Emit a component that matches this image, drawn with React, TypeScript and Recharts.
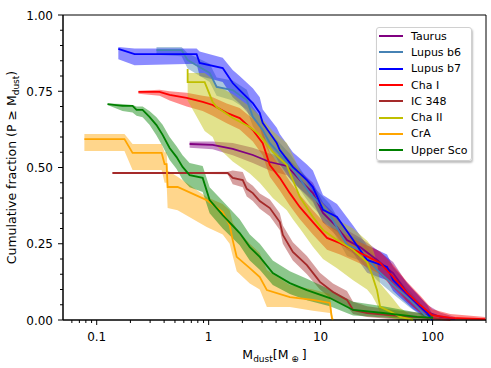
import { ComposedChart, Line, Area, XAxis, YAxis, ReferenceArea } from "recharts";

// each row: [M_dust (Earth masses), cumulative fraction, band low, band high]
type Row = [number, number, number, number];

const taurus: Row[] = [
  [0.676, 0.577, 0.565, 0.585], [1.086, 0.574, 0.56, 0.585], [1.64, 0.561, 0.54, 0.58],
  [2.48, 0.541, 0.515, 0.565], [3.52, 0.518, 0.49, 0.545], [4.99, 0.505, 0.475, 0.535],
  [6.94, 0.449, 0.42, 0.48], [8.53, 0.416, 0.385, 0.45], [10.5, 0.351, 0.32, 0.385],
  [14.0, 0.305, 0.275, 0.34], [17.2, 0.262, 0.23, 0.295], [22.5, 0.239, 0.205, 0.27],
  [31.9, 0.197, 0.165, 0.23], [44.4, 0.154, 0.12, 0.19], [59.3, 0.089, 0.06, 0.12],
  [72.8, 0.056, 0.03, 0.085], [89.5, 0.026, 0.01, 0.05], [117, 0.01, 0, 0.025],
  [159, 0.003, 0, 0.01],
];

const lupusB6: Row[] = [
  [0.342, 0.885, 0.87, 0.895], [0.573, 0.885, 0.865, 0.895], [0.649, 0.852, 0.825, 0.875],
  [1.02, 0.81, 0.78, 0.84], [1.179, 0.764, 0.735, 0.795], [1.64, 0.754, 0.72, 0.785],
  [2.19, 0.721, 0.69, 0.755], [2.48, 0.666, 0.635, 0.7], [3.04, 0.623, 0.59, 0.655],
  [3.52, 0.58, 0.545, 0.615], [5.31, 0.508, 0.475, 0.545], [8.02, 0.416, 0.38, 0.45],
  [12.1, 0.344, 0.31, 0.38], [17.2, 0.246, 0.21, 0.28], [22.5, 0.23, 0.195, 0.265],
  [31.9, 0.164, 0.13, 0.2], [44.4, 0.115, 0.085, 0.15], [63.0, 0.066, 0.04, 0.095],
  [85.8, 0.016, 0.005, 0.035], [99.2, 0, 0, 0.01],
];

const lupusB7: Row[] = [
  [0.156, 0.889, 0.855, 0.895], [0.218, 0.872, 0.835, 0.89], [0.78, 0.872, 0.84, 0.89],
  [0.83, 0.843, 0.8, 0.88], [1.335, 0.826, 0.78, 0.86], [1.64, 0.777, 0.73, 0.82],
  [1.89, 0.754, 0.71, 0.8], [2.48, 0.711, 0.66, 0.76], [2.86, 0.679, 0.63, 0.73],
  [3.04, 0.646, 0.6, 0.69], [4.06, 0.58, 0.53, 0.63], [4.32, 0.557, 0.51, 0.61],
  [5.65, 0.502, 0.45, 0.55], [7.54, 0.459, 0.41, 0.51], [8.53, 0.436, 0.39, 0.49],
  [10.5, 0.361, 0.32, 0.41], [14.0, 0.338, 0.29, 0.38], [19.5, 0.262, 0.22, 0.31],
  [26.0, 0.197, 0.155, 0.245], [39.2, 0.174, 0.13, 0.215], [44.4, 0.131, 0.095, 0.175],
  [67.0, 0.066, 0.035, 0.1], [89.5, 0.023, 0.005, 0.05], [99.2, 0, 0, 0.02],
];

const chaI: Row[] = [
  [0.236, 0.748, 0.742, 0.752], [0.364, 0.748, 0.735, 0.755], [0.448, 0.738, 0.72, 0.75],
  [0.636, 0.728, 0.7, 0.745], [0.884, 0.715, 0.685, 0.735], [1.086, 0.705, 0.67, 0.73],
  [1.449, 0.679, 0.645, 0.71], [1.894, 0.662, 0.625, 0.695], [2.48, 0.623, 0.585, 0.66],
  [3.04, 0.58, 0.54, 0.62], [3.52, 0.508, 0.47, 0.55], [4.32, 0.466, 0.425, 0.505],
  [5.31, 0.416, 0.375, 0.455], [6.53, 0.37, 0.33, 0.41], [8.53, 0.321, 0.28, 0.36],
  [11.4, 0.269, 0.23, 0.31], [14.9, 0.252, 0.215, 0.29], [22.5, 0.22, 0.185, 0.255],
  [34.0, 0.187, 0.15, 0.225], [44.4, 0.141, 0.105, 0.18], [59.3, 0.089, 0.06, 0.125],
  [77.4, 0.049, 0.025, 0.08], [99.2, 0.016, 0.005, 0.035], [144, 0.007, 0, 0.02],
  [296, 0.003, 0, 0.01],
];

const ic348: Row[] = [
  [0.138, 0.482, 0.482, 0.482], [1.479, 0.482, 0.478, 0.486], [1.64, 0.466, 0.445, 0.49],
  [2.016, 0.459, 0.435, 0.485], [2.19, 0.43, 0.405, 0.455], [2.48, 0.416, 0.39, 0.44],
  [2.86, 0.39, 0.365, 0.415], [3.52, 0.367, 0.34, 0.395], [4.32, 0.321, 0.295, 0.35],
  [4.6, 0.279, 0.25, 0.31], [5.65, 0.223, 0.195, 0.255], [7.54, 0.18, 0.15, 0.21],
  [9.86, 0.125, 0.1, 0.155], [12.9, 0.092, 0.065, 0.12], [17.2, 0.066, 0.045, 0.095],
  [19.5, 0.033, 0.02, 0.06], [26.0, 0.023, 0.01, 0.045], [51.3, 0.013, 0, 0.03],
  [95.1, 0.007, 0, 0.02], [144, 0, 0, 0.01],
];

const chaII: Row[] = [
  [0.649, 0.823, 0.8, 0.83], [0.649, 0.78, 0.72, 0.81], [0.921, 0.78, 0.62, 0.81],
  [1.086, 0.715, 0.6, 0.79], [1.179, 0.698, 0.57, 0.77], [1.64, 0.662, 0.52, 0.74],
  [2.33, 0.633, 0.48, 0.7], [2.86, 0.607, 0.45, 0.67], [3.74, 0.551, 0.4, 0.62],
  [4.99, 0.508, 0.36, 0.58], [5.65, 0.459, 0.33, 0.54], [6.53, 0.403, 0.3, 0.49],
  [8.53, 0.338, 0.24, 0.42], [10.5, 0.295, 0.2, 0.38], [14.0, 0.262, 0.17, 0.33],
  [19.5, 0.23, 0.13, 0.3], [26.0, 0.19, 0.1, 0.26], [28.8, 0.148, 0.08, 0.24],
  [31.9, 0.098, 0.05, 0.19], [34.0, 0.043, 0.02, 0.12], [44.4, 0.023, 0.005, 0.07],
  [51.3, 0.01, 0, 0.04], [67.0, 0, 0, 0.01],
];

const crA: Row[] = [
  [0.0776, 0.593, 0.554, 0.61], [0.177, 0.593, 0.554, 0.61], [0.209, 0.548, 0.492, 0.577],
  [0.38, 0.548, 0.492, 0.577], [0.404, 0.511, 0.45, 0.55], [0.421, 0.511, 0.45, 0.55],
  [0.43, 0.436, 0.367, 0.49], [0.528, 0.436, 0.36, 0.47], [0.96, 0.393, 0.305, 0.403],
  [1.335, 0.354, 0.28, 0.38], [1.54, 0.311, 0.25, 0.36], [1.64, 0.262, 0.21, 0.32],
  [1.78, 0.207, 0.16, 0.3], [2.33, 0.17, 0.12, 0.25], [2.86, 0.141, 0.1, 0.22],
  [3.31, 0.098, 0.043, 0.164], [5.31, 0.075, 0.043, 0.115], [8.53, 0.066, 0.03, 0.1],
  [12.1, 0.056, 0.023, 0.085], [12.6, 0.007, 0.003, 0.02], [12.9, 0, 0, 0.01],
];

const upperSco: Row[] = [
  [0.125, 0.708, 0.705, 0.71], [0.17, 0.702, 0.685, 0.708], [0.209, 0.702, 0.68, 0.705],
  [0.227, 0.689, 0.67, 0.7], [0.257, 0.689, 0.665, 0.7], [0.296, 0.666, 0.64, 0.685],
  [0.342, 0.639, 0.605, 0.665], [0.388, 0.607, 0.57, 0.64], [0.448, 0.564, 0.525, 0.6],
  [0.517, 0.534, 0.495, 0.57], [0.585, 0.502, 0.46, 0.54], [0.676, 0.475, 0.435, 0.515],
  [0.884, 0.466, 0.42, 0.505], [1.02, 0.393, 0.35, 0.435], [1.335, 0.344, 0.3, 0.39],
  [1.894, 0.285, 0.245, 0.33], [2.33, 0.239, 0.195, 0.28], [2.86, 0.207, 0.165, 0.25],
  [3.74, 0.154, 0.115, 0.195], [5.31, 0.121, 0.085, 0.16], [7.54, 0.098, 0.065, 0.135],
  [12.1, 0.072, 0.045, 0.1], [19.5, 0.033, 0.015, 0.06], [36.1, 0.023, 0.008, 0.045],
  [72.8, 0.01, 0, 0.025], [101, 0.007, 0, 0.015],
];

const seriesNames = ["Taurus", "Lupus b6", "Lupus b7", "Cha I", "IC 348", "Cha II", "CrA", "Upper Sco"];
const seriesRows = [taurus, lupusB6, lupusB7, chaI, ic348, chaII, crA, upperSco];

const xMajorTicks = [0.1, 1, 10, 100];
const xMinorTicks = [
  0.06, 0.07, 0.08, 0.09, 0.2, 0.3, 0.4, 0.5, 0.6, 0.7, 0.8, 0.9,
  2, 3, 4, 5, 6, 7, 8, 9, 20, 30, 40, 50, 60, 70, 80, 90, 200, 300,
];
const yMajorTicks = [0, 0.25, 0.5, 0.75, 1];
const yMinorTicks = [
  0.05, 0.1, 0.15, 0.2, 0.3, 0.35, 0.4, 0.45, 0.55, 0.6, 0.65, 0.7, 0.8, 0.85, 0.9, 0.95,
];

const COLORS: Record<string, string> = {
  Taurus: "#800080",
  "Lupus b6": "#4682b4",
  "Lupus b7": "#0000ff",
  "Cha I": "#ff0000",
  "IC 348": "#a52a2a",
  "Cha II": "#bfbf00",
  CrA: "#ffa500",
  "Upper Sco": "#008000",
};

const FONT = "DejaVu Sans";

const isMajor = (list: number[], v: number) => list.some((t) => Math.abs(t - v) < 1e-9);

function XTick({ x, y, payload }: { x: number; y: number; payload: { value: number } }) {
  const major = isMajor(xMajorTicks, payload.value);
  return (
    <g>
      <line x1={x} x2={x} y1={y} y2={y + (major ? 5 : 3)} stroke="#000" strokeWidth={1} />
      {major && (
        <text x={x} y={y + 21} textAnchor="middle" fontSize={12} fontFamily={FONT} fill="#000">
          {String(payload.value)}
        </text>
      )}
    </g>
  );
}

function YTick({ x, y, payload }: { x: number; y: number; payload: { value: number } }) {
  const major = isMajor(yMajorTicks, payload.value);
  return (
    <g>
      <line x1={x - (major ? 5 : 3)} x2={x} y1={y} y2={y} stroke="#000" strokeWidth={1} />
      {major && (
        <text x={x - 10} y={y + 4.5} textAnchor="end" fontSize={12} fontFamily={FONT} fill="#000">
          {payload.value.toFixed(2)}
        </text>
      )}
    </g>
  );
}

function XTitle({ viewBox }: { viewBox?: { x: number; y: number; width: number; height: number } }) {
  if (!viewBox) return null;
  return (
    <text x={viewBox.x + viewBox.width / 2} y={viewBox.y + 39} textAnchor="middle" fontSize={12.5} fontFamily={FONT} fill="#000">
      M<tspan dy={3} fontSize={9}>dust</tspan>
      <tspan dy={-3}>[M</tspan>
      <tspan dy={3} fontSize={9}> ⊕ </tspan>
      <tspan dy={-3}>]</tspan>
    </text>
  );
}

function YTitle({ viewBox }: { viewBox?: { x: number; y: number; width: number; height: number } }) {
  if (!viewBox) return null;
  const cx = 16;
  const cy = viewBox.y + viewBox.height / 2;
  return (
    <text x={cx} y={cy} transform={`rotate(-90 ${cx} ${cy})`} textAnchor="middle" fontSize={12.5} fontFamily={FONT} fill="#000">
      Cumulative fraction (P ≥ M<tspan dy={3} fontSize={9}>dust</tspan>
      <tspan dy={-3}>)</tspan>
    </text>
  );
}

function LegendBox() {
  return (
    <div
      style={{
        position: "absolute",
        left: 376,
        top: 27,
        width: 92,
        padding: "0 0 2px 2px",
        background: "rgba(255,255,255,0.85)",
        border: "1px solid #d0d0d0",
        borderRadius: 3,
        boxShadow: "1px 2px 2px rgba(0,0,0,0.25)",
        fontFamily: FONT,
        fontSize: 11,
      }}
    >
      {seriesNames.map((name) => (
        <div key={name} style={{ display: "flex", alignItems: "center", height: 16.3 }}>
          <span style={{ display: "inline-block", width: 24, height: 2, background: COLORS[name], marginRight: 8 }} />
          <span style={{ color: "#000", whiteSpace: "nowrap" }}>{name}</span>
        </div>
      ))}
    </div>
  );
}

export default function App() {
  const series = seriesNames.map((name, i) => ({
    name,
    data: seriesRows[i].map(([m, f, lo, hi]) => ({ m, f, band: [lo, hi] })),
  }));

  const marks = series.flatMap((s) => [
    <Area
      key={`${s.name}-band`}
      data={s.data}
      dataKey="band"
      type="linear"
      stroke="none"
      fill={COLORS[s.name]}
      fillOpacity={0.45}
      isAnimationActive={false}
    />,
    <Line
      key={`${s.name}-line`}
      data={s.data}
      dataKey="f"
      type="linear"
      stroke={COLORS[s.name]}
      strokeWidth={1.8}
      dot={false}
      activeDot={false}
      isAnimationActive={false}
    />,
  ]);

  return (
    <div style={{ position: "absolute", left: 0, top: 0, width: 491, height: 368, background: "#fff" }}>
      <ComposedChart width={491} height={368} margin={{ top: 15, right: 5, bottom: 0, left: 0 }}>
        <XAxis
          dataKey="m"
          type="number"
          scale="log"
          domain={[0.05, 300]}
          allowDataOverflow
          ticks={[...xMajorTicks, ...xMinorTicks].sort((a, b) => a - b)}
          interval={0}
          tick={XTick as any}
          tickLine={false}
          tickSize={0}
          tickMargin={0}
          height={48}
          axisLine={{ stroke: "#000" }}
          label={<XTitle />}
        />
        <YAxis
          type="number"
          domain={[0, 1]}
          ticks={[...yMajorTicks, ...yMinorTicks].sort((a, b) => a - b)}
          interval={0}
          tick={YTick as any}
          tickLine={false}
          tickSize={0}
          tickMargin={0}
          width={63}
          axisLine={{ stroke: "#000" }}
          label={<YTitle />}
        />
        {marks}
        <ReferenceArea x1={0.05} x2={300} y1={0} y2={1} fill="none" stroke="#000" strokeWidth={1} ifOverflow="visible" />
      </ComposedChart>
      <LegendBox />
    </div>
  );
}
